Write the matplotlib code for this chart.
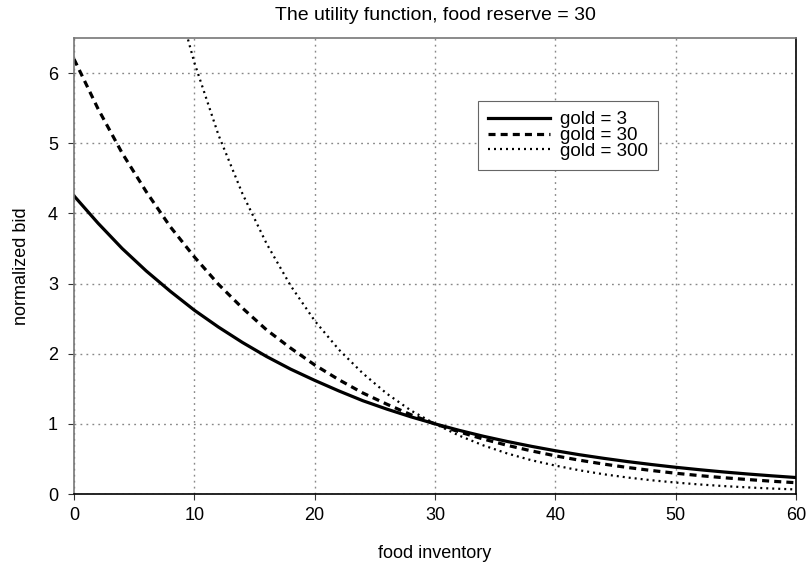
import matplotlib
matplotlib.use("Agg")
import matplotlib.pyplot as plt

plt.rcParams['font.family'] = ['Liberation Sans', 'DejaVu Sans']

# values
x_food = [0, 2, 4, 6, 8, 10, 12, 14, 16, 18, 20, 22, 24, 26, 28, 30,
          32, 34, 36, 38, 40, 42, 44, 46, 48, 50, 52, 54, 56, 58, 60]
bid_gold3 = [4.25, 3.86, 3.50, 3.18, 2.89, 2.62, 2.38, 2.16, 1.96, 1.78, 1.62,
             1.47, 1.33, 1.21, 1.10, 1.00, 0.908, 0.824, 0.749, 0.680, 0.617,
             0.560, 0.509, 0.462, 0.420, 0.381, 0.346, 0.314, 0.285, 0.259, 0.235]
bid_gold30 = [6.20, 5.49, 4.86, 4.31, 3.81, 3.38, 2.99, 2.65, 2.34, 2.08, 1.84,
              1.63, 1.44, 1.28, 1.13, 1.00, 0.886, 0.784, 0.694, 0.615, 0.544,
              0.482, 0.427, 0.378, 0.335, 0.296, 0.262, 0.232, 0.206, 0.182, 0.161]
x_food300 = [8, 10, 12, 14, 16, 18, 20, 22, 24, 26, 28, 30,
             32, 34, 36, 38, 40, 42, 44, 46, 48, 50, 52, 54, 56, 58, 60]
bid_gold300 = [7.40, 6.15, 5.12, 4.28, 3.57, 2.97, 2.47, 2.06, 1.72, 1.43, 1.19,
               1.00, 0.833, 0.694, 0.578, 0.482, 0.405, 0.338, 0.282, 0.235,
               0.196, 0.163, 0.136, 0.113, 0.094, 0.078, 0.065]

fig = plt.figure(figsize=(8.07, 5.64), dpi=100)
# axes box: x 74..796 px, y 38..494 px
ax = fig.add_axes([0.0917, 0.1241, 0.8947, 0.8085])

ax.plot(x_food, bid_gold3, color='black', lw=2.3, ls='-', label='gold = 3')
ax.plot(x_food, bid_gold30, color='black', lw=2.3, ls=(0, (2.2, 1.6)), label='gold = 30')
ax.plot(x_food300, bid_gold300, color='black', lw=1.6, ls=(0, (0.9, 1.8)), label='gold = 300')

ax.set_xlim(0, 60)
ax.set_ylim(0, 6.5)
ax.set_xticks(range(0, 61, 10))
ax.set_yticks(range(0, 7))
ax.grid(True, color='#888888', ls=(0, (1.3, 3)), lw=1.0)
ax.tick_params(labelsize=13, length=4.5, direction='out', color='#333333')
ax.tick_params(axis='y', pad=7)
ax.tick_params(axis='x', pad=5)
for s in ax.spines.values():
    s.set_color('#777777')
    s.set_linewidth(1.2)
ax.spines['bottom'].set_color('black')
ax.spines['right'].set_color('black')

ax.set_title('The utility function, food reserve = 30', fontsize=14, pad=13)
ax.set_xlabel('food inventory', fontsize=13, labelpad=15)
ax.set_ylabel('normalized bid', fontsize=13, labelpad=13)

leg = ax.legend(loc='upper left', bbox_to_anchor=(0.5596, 0.8618), fontsize=13.5,
                fancybox=False, framealpha=1, edgecolor='#666666',
                handlelength=3.3, borderpad=0.55, labelspacing=-0.08,
                handletextpad=0.5, borderaxespad=0)
leg.get_frame().set_linewidth(0.8)

fig.savefig('out.png', dpi=100)
